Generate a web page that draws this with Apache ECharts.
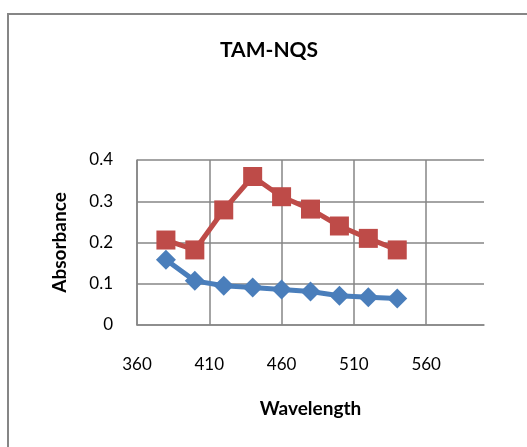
<!DOCTYPE html>
<html>
<head>
<meta charset="utf-8">
<script src="https://cdn.jsdelivr.net/npm/echarts@6/dist/echarts.min.js"></script>
<style>html,body{margin:0;padding:0;background:#fff}#c{width:527px;height:447px}</style>
</head>
<body>
<div id="c"></div>
<script>
var wavelengths = [380, 400, 420, 440, 460, 480, 500, 520, 540];
var seriesBlue = [0.158, 0.107, 0.095, 0.091, 0.086, 0.081, 0.071, 0.067, 0.064];
var seriesRed = [0.206, 0.182, 0.279, 0.360, 0.311, 0.281, 0.240, 0.210, 0.182];
var titleText = 'TAM-NQS';
var xName = 'Wavelength';
var yName = 'Absorbance';

function pairs(xs, ys) { return xs.map(function (x, i) { return [x, ys[i]]; }); }

var font = 'Lato, "Open Sans", sans-serif';
var chart = echarts.init(document.getElementById('c'));
chart.setOption({
  animation: false,
  backgroundColor: '#fff',
  title: { text: titleText, left: 215, top: 35, textStyle: { fontFamily: font, fontSize: 21, fontWeight: 'bold', color: '#000' } },
  graphic: [
    { type: 'line', shape: { x1: 8, y1: 13, x2: 8, y2: 447 }, style: { stroke: '#868686', lineWidth: 2 } },
    { type: 'line', shape: { x1: 7, y1: 14, x2: 527, y2: 14 }, style: { stroke: '#868686', lineWidth: 2 } }
  ],
  grid: { left: 137, right: 43, top: 160, bottom: 122 },
  xAxis: {
    type: 'value', min: 360, max: 600, interval: 50,
    name: xName, nameLocation: 'middle', nameGap: 74,
    nameTextStyle: { fontFamily: font, fontSize: 19, fontWeight: 'bold', color: '#000' },
    axisLine: { lineStyle: { color: '#868686', width: 1.5 } },
    axisTick: { show: false },
    axisLabel: { showMaxLabel: false, margin: 31, fontFamily: font, fontSize: 17, color: '#000' },
    splitLine: { show: true, showMaxLine: false, lineStyle: { color: '#868686', width: 1.5 } }
  },
  yAxis: {
    type: 'value', min: 0, max: 0.4, interval: 0.1,
    name: yName, nameLocation: 'middle', nameGap: 68,
    nameTextStyle: { fontFamily: font, fontSize: 19, fontWeight: 'bold', color: '#000' },
    axisLine: { show: true, lineStyle: { color: '#868686', width: 1.5 } },
    axisTick: { show: false },
    axisLabel: { margin: 24, fontFamily: font, fontSize: 17, color: '#000' },
    splitLine: { show: true, lineStyle: { color: '#868686', width: 1.5 } }
  },
  series: [
    { type: 'line', data: pairs(wavelengths, seriesBlue), symbol: 'diamond', symbolSize: 20,
      lineStyle: { color: '#4A7EBB', width: 5 }, itemStyle: { color: '#4A7EBB' } },
    { type: 'line', data: pairs(wavelengths, seriesRed), symbol: 'rect', symbolSize: 19,
      lineStyle: { color: '#BE4B48', width: 5 }, itemStyle: { color: '#BE4B48' } }
  ]
});
</script>
</body>
</html>
